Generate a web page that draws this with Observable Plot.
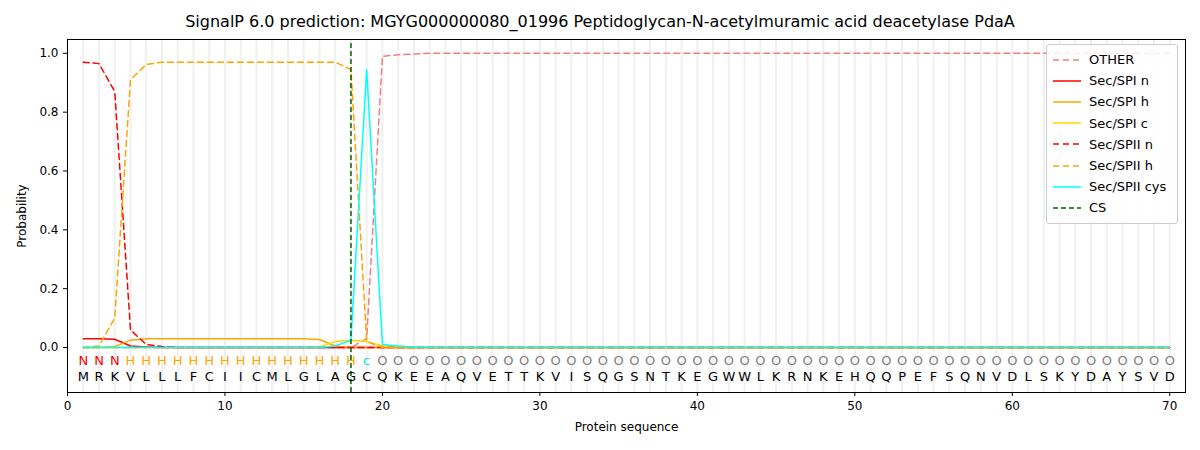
<!DOCTYPE html>
<html>
<head>
<meta charset="UTF-8">
<script src="https://cdn.jsdelivr.net/npm/d3@7"></script>
<script src="https://cdn.jsdelivr.net/npm/@observablehq/plot@0.6"></script>
<style>
  body { margin: 0; font-family: "DejaVu Sans", sans-serif; background: #fff; }
  #wrap { position: relative; width: 1200px; height: 450px; }
  #title { height: 30px; padding-top: 8px; line-height: 28px; text-align: center; font-size: 16px; }
  #legend { position: absolute; left: 1046px; top: 44px; width: 130px; background: rgba(255,255,255,0.85);
    border: 1px solid #ccc; border-radius: 3px; padding: 4px 0 4px 0; font-size: 13px; }
  .row { display: flex; align-items: center; height: 21.2px; }
  .row svg { margin: 0 8px 0 6px; }
</style>
</head>
<body>
<div id="wrap">
  <div id="title">SignalP 6.0 prediction: MGYG000000080_01996 Peptidoglycan-N-acetylmuramic acid deacetylase PdaA</div>
  <div id="chart"></div>
  <div id="legend"></div>
</div>
<script>
const residues = "MRKVLLLFCIICMLGLAGCQKEEAQVETTKVISQGSNTKEGWWLKRNKEHQQPEFSQNVDLSKYDAYSVD".split("");
const regions = "NNNHHHHHHHHHHHHHHHcOOOOOOOOOOOOOOOOOOOOOOOOOOOOOOOOOOOOOOOOOOOOOOOOOOO".split("");

function pad(head) { return head.concat(Array(70 - head.length).fill(head[head.length - 1] === 1 ? 1 : 0)); }
const other   = pad([0,0,0,0,0,0,0,0,0,0,0,0,0,0,0,0,0,0,0.03,0.99,0.995,0.998,1]);
const spiN    = pad([0.03,0.03,0.028,0.005,0.002,0]);
const spiH    = pad([0,0,0.003,0.025,0.03,0.03,0.03,0.03,0.03,0.03,0.03,0.03,0.03,0.03,0.03,0.027,0.005,0,0,0]);
const spiC    = pad([0,0,0,0,0,0,0,0,0,0,0,0,0,0,0,0.002,0.02,0.025,0.02,0.006,0.003,0]);
const spiiN   = pad([0.97,0.965,0.87,0.06,0.01,0.003,0]);
const spiiH   = pad([0,0.005,0.1,0.91,0.962,0.97,0.97,0.97,0.97,0.97,0.97,0.97,0.97,0.97,0.97,0.97,0.97,0.945,0.02,0]);
const spiiCys = pad([0,0,0,0,0,0,0,0,0,0,0,0,0,0,0,0,0.005,0.025,0.945,0.01,0.005,0.002,0]);
const csPos = 18;

const series = [
  {name: "OTHER", values: other, color: "#f08080", dash: "6,4"},
  {name: "Sec/SPI n", values: spiN, color: "#ff0000", dash: null},
  {name: "Sec/SPI h", values: spiH, color: "#ffa500", dash: null},
  {name: "Sec/SPI c", values: spiC, color: "#ffd700", dash: null},
  {name: "Sec/SPII n", values: spiiN, color: "#ff0000", dash: "6,4"},
  {name: "Sec/SPII h", values: spiiH, color: "#ffa500", dash: "6,4"},
  {name: "Sec/SPII cys", values: spiiCys, color: "#00ffff", dash: null}
];
const regionColor = {N: "#ff0000", H: "#ffa500", c: "#00e5e5", O: "#808080"};
const pos = d3.range(1, 71);

const marks = [
  Plot.ruleX(pos, {stroke: "#f0f0f0", strokeWidth: 2})
];
for (const s of series) {
  marks.push(Plot.line(s.values.map((v, i) => ({x: i + 1, y: v})),
    {x: "x", y: "y", stroke: s.color, strokeWidth: 1.5, strokeDasharray: s.dash}));
}
marks.push(Plot.ruleX([csPos], {stroke: "#006400", strokeWidth: 1.5, strokeDasharray: "5,3", y1: -0.153, y2: 1.047}));
marks.push(Plot.text(pos, {x: d => d, y: -0.047, text: d => regions[d - 1], fill: d => regionColor[regions[d - 1]], fontSize: 13}));
marks.push(Plot.text(pos, {x: d => d, y: -0.1, text: d => residues[d - 1], fill: "#000", fontSize: 13}));
marks.push(Plot.frame({stroke: "#000"}));

const chart = Plot.plot({
  width: 1200, height: 412,
  marginLeft: 67, marginRight: 15, marginTop: 1, marginBottom: 58,
  style: {fontFamily: "DejaVu Sans, sans-serif", fontSize: "12px"},
  x: {domain: [0, 71], ticks: d3.range(0, 71, 10), label: "Protein sequence", labelArrow: "none", labelAnchor: "center", labelOffset: 38, tickSize: 4},
  y: {domain: [-0.153, 1.047], ticks: d3.range(0, 1.01, 0.2), tickFormat: d3.format(".1f"), label: "Probability", labelArrow: "none", labelAnchor: "center", labelOffset: 50, tickSize: 4},
  marks
});
document.getElementById("chart").append(chart);

const leg = document.getElementById("legend");
for (const s of series.concat([{name: "CS", color: "#006400", dash: "5,3"}])) {
  const row = document.createElement("div");
  row.className = "row";
  row.innerHTML = `<svg width="28" height="10"><line x1="0" y1="5" x2="28" y2="5" stroke="${s.color}" stroke-width="1.5" ${s.dash ? `stroke-dasharray="${s.dash}"` : ""}/></svg><span>${s.name}</span>`;
  leg.append(row);
}
</script>
</body>
</html>
